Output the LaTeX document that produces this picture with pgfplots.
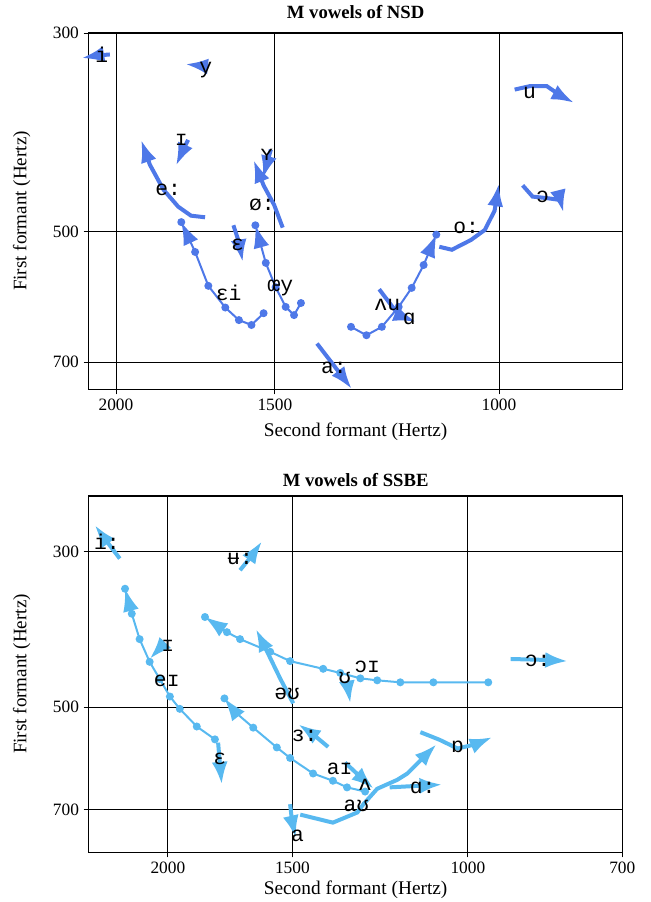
\documentclass[border=0pt]{standalone}
\usepackage{fontspec}
\setmainfont{Liberation Serif}
\newfontfamily\ipafont{Liberation Mono}
\usepackage{pgfplots}
\pgfplotsset{compat=1.18}
\usetikzlibrary{arrows.meta}

\definecolor{nsd}{RGB}{78,120,232}
\definecolor{ssbe}{RGB}{88,185,240}

\tikzset{
  traj/.style={line width=3pt, -{Latex[length=17pt,width=12pt]}},
  dip/.style={line width=1.5pt, mark=*, mark size=2.2pt, mark options={solid}, -{Latex[length=17pt,width=12pt]}},
}

\begin{document}
\begin{tikzpicture}
% ---------------- NSD ----------------
\begin{axis}[
  at={(0pt,0pt)}, anchor=north west,
  scale only axis, width=400pt, height=267pt,
  xmode=log, ymode=log, x dir=reverse, y dir=reverse,
  xmin=800, xmax=2100, ymin=300, ymax=750,
  grid=major, major grid style={black, line width=0.6pt},
  axis line style={black, line width=0.8pt},
  tick style={black, line width=0.6pt},
  tick align=outside, major tick length=4pt,
  xtick pos=left, ytick pos=left,
  xtick={2000,1500,1000}, xticklabels={2000,1500,1000},
  ytick={300,500,700}, yticklabels={300,500,700},
  ticklabel style={font=\fontsize{13}{14}\selectfont},
  clip=false,
  title={M vowels of NSD},
  title style={at={(axis description cs:0.5,1.059)}, anchor=center, yshift=-6pt, font=\bfseries\fontsize{14}{16}\selectfont},
  xlabel={Second formant (Hertz)},
  x label style={at={(axis description cs:0.5,-0.121)}, anchor=center, font=\fontsize{14.5}{16}\selectfont},
  ylabel={First formant (Hertz)},
  y label style={at={(axis description cs:-0.126,0.5)}, anchor=center, font=\fontsize{14.3}{16}\selectfont},
]
\addplot[nsd, traj] coordinates {(2022,317) (2075,318) (2128,320)};
\addplot[nsd, traj] coordinates {(1692,327) (1728,326) (1764,325)};
\addplot[nsd, traj] coordinates {(1755,395) (1775,408) (1794,422)};
\addplot[nsd, traj] coordinates {(1511,405) (1522,420) (1533,436)};
\addplot[nsd, traj] coordinates {(1702,482) (1746,480) (1787,469) (1835,449) (1881,421) (1911,395)};
\addplot[nsd, traj] coordinates {(1479,495) (1502,467) (1531,444) (1559,416)};
\addplot[nsd, traj] coordinates {(1617,492) (1600,515) (1590,541)};
\addplot[nsd, dip] coordinates {(1531,617) (1565,636) (1601,628) (1641,608) (1692,575) (1733,527) (1777,488)};
\addplot[nsd, dip] coordinates {(1431,601) (1449,620) (1471,607) (1498,577) (1525,542) (1554,492)};
\addplot[nsd, traj] coordinates {(1390,667) (1348,706) (1305,750)};
\addplot[nsd, dip] coordinates {(1307,639) (1271,653) (1236,639) (1199,607) (1171,578) (1146,545) (1120,504)};
\addplot[nsd, traj] coordinates {(1242,580) (1199,620) (1162,631)};
\addplot[nsd, traj] coordinates {(1114,520) (1089,524) (1052,511) (1026,498) (1008,474) (1000,442)};
\addplot[nsd, traj] coordinates {(958,444) (941,457) (915,459) (895,461) (890,476)};
\addplot[nsd, traj] coordinates {(972,347) (946,344) (917,344) (893,353) (873,359)};
\addplot[only marks, mark=*, mark size=0pt, mark options={draw=none, fill=none},
  nodes near coords, point meta=explicit symbolic,
  every node near coord/.style={anchor=center, inner sep=0pt, text=black, font=\ipafont\fontsize{16}{16}\selectfont}]
  table[x=x, y=y, meta=lab, row sep=\\] {
x y lab\\
2052 317 i\\
1700 330 y\\
1777 395 ɪ\\
1522 410 ʏ\\
1820 449 e:\\
1536 467 ø:\\
1605 518 ɛ\\
1631 585 ɛi\\
1485 578 œy\\
1348 711 a:\\
1224 604 ʌu\\
1176 626 ɑ\\
1061 495 o:\\
924 457 ɔ\\
946 350 u\\
};
\end{axis}
% ---------------- SSBE ----------------
\begin{axis}[
  at={(0pt,-347.25pt)}, anchor=north west,
  scale only axis, width=400pt, height=267pt,
  xmode=log, ymode=log, x dir=reverse, y dir=reverse,
  xmin=700, xmax=2400, ymin=250, ymax=805,
  grid=major, major grid style={black, line width=0.6pt},
  axis line style={black, line width=0.8pt},
  tick style={black, line width=0.6pt},
  tick align=outside, major tick length=4pt,
  xtick pos=left, ytick pos=left,
  xtick={2000,1500,1000,700}, xticklabels={2000,1500,1000,700},
  ytick={300,500,700}, yticklabels={300,500,700},
  ticklabel style={font=\fontsize{13}{14}\selectfont},
  clip=false,
  title={M vowels of SSBE},
  title style={at={(axis description cs:0.5,1.045)}, anchor=center, yshift=-6pt, font=\bfseries\fontsize{14}{16}\selectfont},
  xlabel={Second formant (Hertz)},
  x label style={at={(axis description cs:0.5,-0.107)}, anchor=center, font=\fontsize{14.5}{16}\selectfont},
  ylabel={First formant (Hertz)},
  y label style={at={(axis description cs:-0.126,0.5)}, anchor=center, font=\fontsize{14.3}{16}\selectfont},
]
\addplot[ssbe, traj] coordinates {(2235,307) (2300,291) (2368,275)};
\addplot[ssbe, traj] coordinates {(1693,319) (1650,305) (1609,290)};
\addplot[ssbe, traj] coordinates {(2014,406) (2050,416) (2086,427)};
\addplot[ssbe, dip] coordinates {(1794,556) (1871,533) (1946,503) (1991,483) (2038,456) (2086,431) (2135,400) (2174,368) (2208,339)};
\addplot[ssbe, traj] coordinates {(1781,562) (1774,600) (1766,645)};
\addplot[ssbe, dip] coordinates {(954,461) (1083,461) (1169,461) (1233,458) (1282,455) (1343,447) (1397,441) (1508,430) (1579,417) (1693,400) (1745,391) (1836,372)};
\addplot[ssbe, traj] coordinates {(1322,461) (1317,477) (1312,494)};
\addplot[ssbe, traj] coordinates {(1497,494) (1542,456) (1590,417) (1632,387)};
\addplot[ssbe, traj] coordinates {(1381,570) (1430,547) (1480,529)};
\addplot[ssbe, dip] coordinates {(1268,660) (1322,651) (1366,637) (1430,622) (1508,591) (1555,571) (1642,535) (1713,508) (1755,486)};
\addplot[ssbe, traj] coordinates {(1328,600) (1285,627) (1243,654)};
\addplot[ssbe, traj] coordinates {(1473,712) (1366,731) (1291,707) (1273,688) (1233,654) (1177,635) (1150,622) (1075,565)};
\addplot[ssbe, traj] coordinates {(1116,543) (1067,557) (1024,573) (982,565) (945,552)};
\addplot[ssbe, traj] coordinates {(1198,651) (1130,648) (1061,645)};
\addplot[ssbe, traj] coordinates {(1508,688) (1501,729) (1488,769)};
\addplot[ssbe, traj] coordinates {(906,427) (850,428) (794,430)};
\addplot[only marks, mark=*, mark size=0pt, mark options={draw=none, fill=none},
  nodes near coords, point meta=explicit symbolic,
  every node near coord/.style={anchor=center, inner sep=0pt, text=black, font=\ipafont\fontsize{16}{16}\selectfont}]
  table[x=x, y=y, meta=lab, row sep=\\] {
x y lab\\
2302 291 i:\\
1693 307 ʉ:\\
2000 409 ɪ\\
2005 459 eɪ\\
1774 593 ɛ\\
1262 438 ɔɪ\\
1329 455 ʊ\\
1518 479 əʊ\\
1458 550 ɜ:\\
1345 613 aɪ\\
1268 645 ʌ\\
1294 692 aʊ\\
1110 653 ɑ:\\
1024 569 ɒ\\
1482 763 a\\
851 430 ɔ:\\
};
\end{axis}
\pgfresetboundingbox
\path (-66.75pt,24.75pt) rectangle (420.75pt,-651.75pt);
\end{tikzpicture}
\end{document}
